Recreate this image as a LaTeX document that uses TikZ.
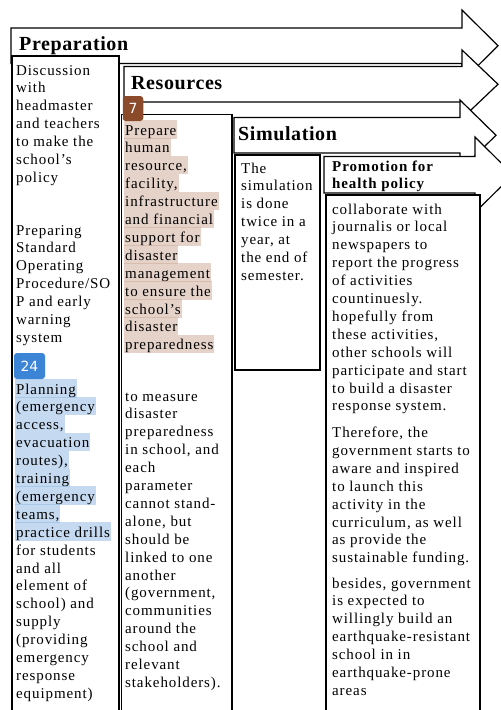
\documentclass[tikz,border=0pt]{standalone}
\usepackage{fontspec}
\setmainfont{Liberation Serif}[LetterSpace=6]
\newfontfamily\headfont{Liberation Serif}[LetterSpace=3]
\newfontfamily\badgefont{DejaVu Sans}
\definecolor{hlbrown}{RGB}{205,169,149}
\definecolor{hlblue}{RGB}{141,183,227}
\definecolor{badgebrown}{RGB}{139,74,42}
\definecolor{badgeblue}{RGB}{59,132,214}
\tikzset{
  arrowshape/.style={draw=black, line width=1.2pt, fill=white, line join=miter},
  colbox/.style={draw=black, line width=1.2pt, fill=white},
  bodytext/.style={font=\fontsize{15}{17.9}\selectfont, inner sep=0pt, anchor=base west},
  headtext/.style={font=\headfont\fontsize{20}{24}\selectfont\bfseries, inner sep=0pt, anchor=base west},
  subhead/.style={font=\fontsize{15}{17}\selectfont\bfseries, inner sep=0pt, anchor=base west},
  hlbase/.style={bodytext, fill opacity=0.5, text opacity=1, inner xsep=1pt, inner ysep=0pt, text height=15pt, text depth=3.5pt},
  hlb/.style={hlbase, fill=hlbrown},
  hlu/.style={hlbase, fill=hlblue},
  badge/.style={rounded corners=3pt, text=white, font=\badgefont\fontsize{14}{14}\selectfont, inner sep=0pt, anchor=center}
}
\begin{document}
\begin{tikzpicture}[x=1pt,y=-1pt]
\path[use as bounding box, fill=white] (0,0) rectangle (501,710);
\clip (0,0) rectangle (501,710);

% arrows
\draw[arrowshape] (11,28) -- (462,28) -- (462,10) -- (498,45.75) -- (462,81.5) -- (462,63.5) -- (11,63.5) -- cycle;
\draw[arrowshape] (124,66.5) -- (462,66.5) -- (462,50) -- (498,84.25) -- (462,118.5) -- (462,102) -- (124,102) -- cycle;
\draw[arrowshape] (234,117.5) -- (460,117.5) -- (460,100) -- (496,135.25) -- (460,170.5) -- (460,153) -- (234,153) -- cycle;
\draw[arrowshape] (324,156.5) -- (475,156.5) -- (475,137) -- (513,174.75) -- (475,212.5) -- (475,193) -- (324,193) -- cycle;

% column boxes
\draw[colbox] (12,56) rectangle (119,730);
\draw[colbox] (121.5,114.5) rectangle (232,730);
\draw[colbox] (235,155) rectangle (320,370);
\draw[colbox] (326,195) rectangle (480,730);

% headers
\node[headtext] (hprep) at (19,50) {Preparation};
\node[headtext] (hres) at (131,89.5) {Resources};
\node[headtext] (hsim) at (238,140) {Simulation};
\node[subhead] (hprom) at (332,171) {\parbox[t]{160pt}{Promotion for\\health policy}};

% column 1
\node[bodytext] (c1a) at (16,75) {\parbox[t]{120pt}{Discussion\\with\\headmaster\\and teachers\\to make the\\school’s\\policy}};
\node[bodytext] (c1b) at (16,235) {\parbox[t]{120pt}{Preparing\\Standard\\Operating\\Procedure/SO\\P and early\\warning\\system}};
\foreach \t [count=\i from 0] in {Planning,{(emergency},{access,},evacuation,{routes),},training,{(emergency},{teams,},{practice drills}}
  \node[hlu] (c1h\i) at (15,394+\i*17.9) {\t};
\node[bodytext] (c1c) at (16,555.1) {\parbox[t]{120pt}{for students\\and all\\element of\\school) and\\supply\\(providing\\emergency\\response\\equipment)}};

% column 2
\foreach \t [count=\i from 0] in {Prepare,human,{resource,},{facility,},infrastructure,{and financial},{support for},disaster,management,{to ensure the},school’s,disaster,preparedness}
  \node[hlb] (c2h\i) at (124,135+\i*17.9) {\t};
\node[bodytext] (c2b) at (125,401) {\parbox[t]{120pt}{to measure\\disaster\\preparedness\\in school, and\\each\\parameter\\cannot stand-\\alone, but\\should be\\linked to one\\another\\(government,\\communities\\around the\\school and\\relevant\\stakeholders).}};

% column 3
\node[bodytext] (c3) at (241,173) {\parbox[t]{100pt}{The\\simulation\\is done\\twice in a\\year, at\\the end of\\semester.}};

% column 4
\node[bodytext] (c4a) at (332,214) {\parbox[t]{170pt}{collaborate with\\journalis or local\\newspapers to\\report the progress\\of activities\\countinuesly.\\hopefully from\\these activities,\\other schools will\\participate and start\\to build a disaster\\response system.}};
\node[bodytext] (c4b) at (332,437.5) {\parbox[t]{170pt}{Therefore, the\\government starts to\\aware and inspired\\to launch this\\activity in the\\curriculum, as well\\as provide the\\sustainable funding.}};
\node[bodytext] (c4c) at (332,588) {\parbox[t]{170pt}{besides, government\\is expected to\\willingly build an\\earthquake-resistant\\school in in\\earthquake-prone\\areas}};

% annotation badges
\node[badge, fill=badgebrown, minimum width=20.5pt, minimum height=25pt] (b7) at (133,108.5) {7};
\node[badge, fill=badgeblue, minimum width=31pt, minimum height=26pt] (b24) at (29.5,366) {24};
\end{tikzpicture}
\end{document}
